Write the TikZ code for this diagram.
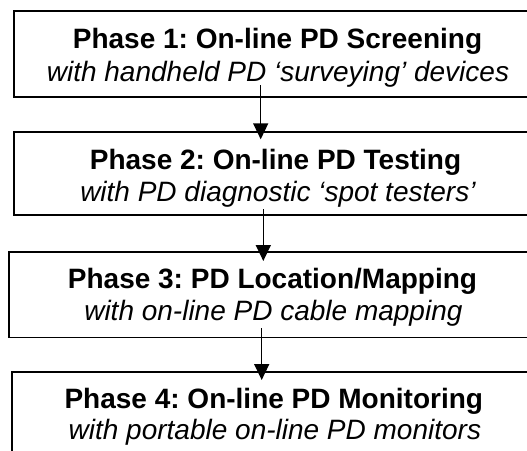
\documentclass[tikz,border=0pt]{standalone}
\usepackage{fontspec}
\setmainfont{Liberation Sans}
\usetikzlibrary{arrows.meta}
\begin{document}
\frenchspacing
\begin{tikzpicture}[x=1pt,y=-1pt,
  phasebox/.style={inner sep=0pt, outer sep=0pt, anchor=north west},
  boxline/.style={draw=black, line width=1.8pt, line cap=rect},
  titletext/.style={anchor=base, inner sep=0pt, font=\fontsize{28}{32}\selectfont\bfseries},
  subtext/.style={anchor=base, inner sep=0pt, font=\fontsize{28}{32}\selectfont\itshape},
  flow/.style={line width=1.5pt, -{Triangle[width=15pt,length=16pt]}}]
\useasboundingbox (0,0) rectangle (527,450);
\clip (0,0) rectangle (527,450);
\fill[white] (0,0) rectangle (527,450);
% boxes (right edges run off the picture)
\node[phasebox, minimum width=560pt, minimum height=86pt] (b1) at (14,11) {};
\node[phasebox, minimum width=560pt, minimum height=83pt] (b2) at (14,132) {};
\node[phasebox, minimum width=560pt, minimum height=85.5pt] (b3) at (9.3,252) {};
\node[phasebox, minimum width=560pt, minimum height=110pt] (b4) at (11.7,372) {};
\foreach \b in {b1,b2,b3,b4}
  \draw[boxline] (\b.north east) -- (\b.north west) -- (\b.south west) -- (\b.south east);
% texts
\node[titletext] (t1) at (277.5,48.3) {Phase 1: On-line PD Screening};
\node[subtext] (s1) at (278,81.7) {with handheld PD ‘surveying’ devices};
\node[titletext] (t2) at (275.5,169) {Phase 2: On-line PD Testing};
\node[subtext] (s2) at (277.9,201.7) {with PD diagnostic ‘spot testers’};
\node[titletext] (t3) at (272.5,288.3) {Phase 3: PD Location/Mapping};
\node[subtext] (s3) at (273.4,320) {with on-line PD cable mapping};
\node[titletext] (t4) at (273.8,408.3) {Phase 4: On-line PD Monitoring};
\node[subtext] (s4) at (274.9,439) {with portable on-line PD monitors};
% connectors
\coordinate (a1) at (260.7,85);
\coordinate (a2) at (263.3,209);
\coordinate (a3) at (261.7,328);
\draw[flow] (a1) -- ([yshift=-7.3pt]a1 |- b2.north);
\draw[flow] (a2) -- ([yshift=-9pt]a2 |- b3.north);
\draw[flow] (a3) -- ([yshift=-8pt]a3 |- b4.north);
\end{tikzpicture}
\end{document}
